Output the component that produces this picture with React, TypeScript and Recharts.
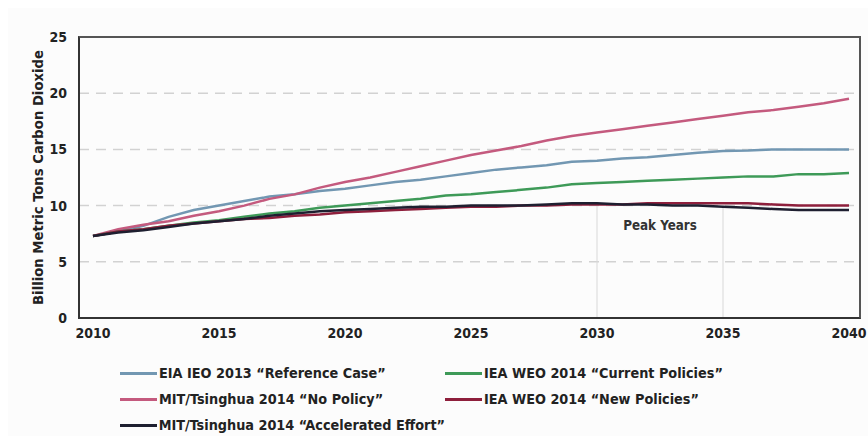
import React from "react"
import {
  LineChart,
  Line,
  XAxis,
  YAxis,
  CartesianGrid,
  ReferenceLine,
  ReferenceArea,
} from "recharts"

const years = [
  2010, 2011, 2012, 2013, 2014, 2015, 2016, 2017, 2018, 2019, 2020, 2021, 2022, 2023, 2024, 2025,
  2026, 2027, 2028, 2029, 2030, 2031, 2032, 2033, 2034, 2035, 2036, 2037, 2038, 2039, 2040,
]

const eiaReference = [
  7.3, 7.7, 8.2, 9.0, 9.6, 10.0, 10.4, 10.8, 11.0, 11.3, 11.5, 11.8, 12.1, 12.3, 12.6, 12.9,
  13.2, 13.4, 13.6, 13.9, 14.0, 14.2, 14.3, 14.5, 14.7, 14.85, 14.9, 15.0, 15.0, 15.0, 15.0,
]
const mitNoPolicy = [
  7.3, 7.9, 8.3, 8.6, 9.1, 9.5, 10.0, 10.6, 11.0, 11.6, 12.1, 12.5, 13.0, 13.5, 14.0, 14.5,
  14.9, 15.3, 15.8, 16.2, 16.5, 16.8, 17.1, 17.4, 17.7, 18.0, 18.3, 18.5, 18.8, 19.1, 19.5,
]
const ieaCurrent = [
  7.3, 7.7, 7.9, 8.2, 8.5, 8.7, 9.0, 9.3, 9.5, 9.8, 10.0, 10.2, 10.4, 10.6, 10.9, 11.0,
  11.2, 11.4, 11.6, 11.9, 12.0, 12.1, 12.2, 12.3, 12.4, 12.5, 12.6, 12.6, 12.8, 12.8, 12.9,
]
const ieaNew = [
  7.3, 7.7, 7.9, 8.2, 8.4, 8.6, 8.8, 8.9, 9.1, 9.2, 9.4, 9.5, 9.6, 9.7, 9.8, 9.9,
  9.9, 10.0, 10.0, 10.1, 10.1, 10.1, 10.2, 10.2, 10.2, 10.2, 10.2, 10.1, 10.0, 10.0, 10.0,
]
const mitAccelerated = [
  7.3, 7.6, 7.8, 8.1, 8.4, 8.6, 8.8, 9.1, 9.3, 9.5, 9.6, 9.7, 9.8, 9.9, 9.9, 10.0,
  10.0, 10.0, 10.1, 10.2, 10.2, 10.1, 10.1, 10.0, 10.0, 9.9, 9.8, 9.7, 9.6, 9.6, 9.6,
]

const xTicks = [2010, 2015, 2020, 2025, 2030, 2035, 2040]
const yTicks = [0, 5, 10, 15, 20, 25]
const peakYears = [2030, 2035]

const series = [
  { key: "eia", name: "EIA IEO 2013 \u201cReference Case\u201d", color: "#7297b2", values: eiaReference },
  { key: "mitNo", name: "MIT/Tsinghua 2014 \u201cNo Policy\u201d", color: "#c45a7e", values: mitNoPolicy },
  { key: "ieaCur", name: "IEA WEO 2014 \u201cCurrent Policies\u201d", color: "#3e9a58", values: ieaCurrent },
  { key: "ieaNew", name: "IEA WEO 2014 \u201cNew Policies\u201d", color: "#8e1f3c", values: ieaNew },
  { key: "mitAcc", name: "MIT/Tsinghua 2014 \u201cAccelerated Effort\u201d", color: "#1e1f30", values: mitAccelerated },
]

const data = years.map((year, i) => {
  const row: Record<string, number> = { year }
  series.forEach(s => (row[s.key] = s.values[i]))
  return row
})

const FONT = "'Liberation Sans Narrow', 'DejaVu Sans Condensed', sans-serif"
const textStyle = { fontFamily: FONT, fontWeight: 700 }

const legendOrder = ["eia", "ieaCur", "mitNo", "ieaNew", "mitAcc"]

const W = 860
const H = 428
// plot box in chart px
const PLOT = { left: 71, top: 29, right: 852, bottom: 310 }
const X_AXIS_H = 30

export default function App() {
  return (
    <div
      style={{
        position: "fixed",
        left: 8,
        top: 8,
        width: W,
        height: H,
        overflow: "hidden",
        background: "#fcfcfc",
      }}
    >
      <LineChart
        width={W}
        height={H}
        data={data}
        margin={{ top: PLOT.top, right: W - PLOT.right, left: 0, bottom: H - PLOT.bottom - X_AXIS_H }}
      >
        <CartesianGrid vertical={false} stroke="#d2d2d2" strokeDasharray="10 7" strokeWidth={1.5} />
        <XAxis
          dataKey="year"
          type="number"
          domain={[2010, 2040]}
          ticks={xTicks}
          height={X_AXIS_H}
          padding={{ left: 14, right: 11 }}
          tickSize={0}
          tickMargin={10}
          axisLine={false}
          tick={{ fill: "#222", fontSize: 14, ...textStyle }}
        />
        <YAxis
          domain={[0, 25]}
          ticks={yTicks}
          width={PLOT.left}
          tickSize={0}
          tickMargin={12}
          axisLine={false}
          tick={{ fill: "#222", fontSize: 14, ...textStyle }}
          label={{
            value: "Billion Metric Tons Carbon Dioxide",
            angle: -90,
            position: "center",
            dx: -6,
            style: { fill: "#222", fontSize: 14.7, textAnchor: "middle", ...textStyle },
          }}
        />
        {peakYears.map(y => (
          <ReferenceLine
            key={y}
            segment={[{ x: y, y: 10 }, { x: y, y: 0 }]}
            stroke="#d8d8d8"
            strokeWidth={1}
          />
        ))}
        <ReferenceArea
          x1={peakYears[0]}
          x2={peakYears[1]}
          y1={0}
          y2={10}
          fillOpacity={0}
          strokeOpacity={0}
          label={{
            value: "Peak Years",
            position: "insideTop",
            offset: 15,
            style: { fill: "#333", fontSize: 13.3, ...textStyle },
          }}
        />
        {series.map(s => (
          <Line
            key={s.key}
            dataKey={s.key}
            name={s.name}
            stroke={s.color}
            strokeWidth={2.5}
            dot={false}
            type="linear"
            isAnimationActive={false}
          />
        ))}
      </LineChart>
      <div
        style={{
          position: "absolute",
          boxSizing: "border-box",
          left: PLOT.left - 1.25,
          top: PLOT.top - 1.25,
          width: PLOT.right - PLOT.left + 2.5,
          height: PLOT.bottom - PLOT.top + 2.5,
          border: "2.5px solid #333",
          borderTopColor: "#555",
          borderRightColor: "#555",
          pointerEvents: "none",
        }}
      />
      <div
        style={{
          position: "absolute",
          left: 112,
          top: 352,
          display: "grid",
          gridTemplateColumns: "325px 325px",
          fontSize: 14.3,
          color: "#222",
          ...textStyle,
        }}
      >
        {legendOrder.map(k => {
          const s = series.find(x => x.key === k)!
          return (
            <div key={k} style={{ display: "flex", alignItems: "center", height: 26 }}>
              <span style={{ display: "inline-block", width: 37, height: 3, background: s.color, marginRight: 2 }} />
              <span style={{ whiteSpace: "nowrap" }}>{s.name}</span>
            </div>
          )
        })}
      </div>
    </div>
  )
}
